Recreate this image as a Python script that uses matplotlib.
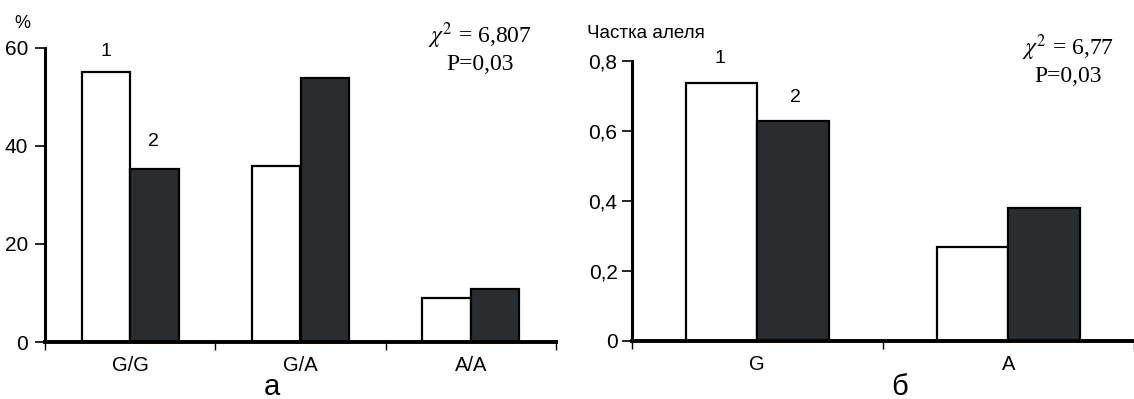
import matplotlib
matplotlib.use("Agg")
import matplotlib.pyplot as plt
import numpy as np

# ---- data ----
geno_cats = ["G/G", "G/A", "A/A"]
geno_group1 = [55.1, 35.9, 8.9]
geno_group2 = [35.3, 53.8, 10.9]

allele_cats = ["G", "A"]
allele_group1 = [0.735, 0.269]
allele_group2 = [0.627, 0.380]

geno_yticks = [0, 20, 40, 60]
geno_yticklabels = ["0", "20", "40", "60"]
allele_yticks = [0, 0.2, 0.4, 0.6, 0.8]
allele_yticklabels = ["0", "0,2", "0,4", "0,6", "0,8"]

chi_left = [r"$\chi^2$ = 6,807", "P=0,03"]
chi_right = [r"$\chi^2$ = 6,77", "P=0,03"]

W, H = 1134, 399
plt.rcParams["font.family"] = ["Liberation Sans", "DejaVu Sans"]
plt.rcParams["mathtext.fontset"] = "stix"

fig = plt.figure(figsize=(W / 100, H / 100), dpi=100)

DARK = "#2a2d30"
BW = 0.285


def px_axes(x0, x1, ytop, ybot):
    return fig.add_axes([x0 / W, (H - ybot) / H, (x1 - x0) / W, (ybot - ytop) / H])


def style(ax, cats, yticks, yticklabels, ylim, xlim, tickpad):
    for s in ["top", "right"]:
        ax.spines[s].set_visible(False)
    ax.spines["left"].set_linewidth(2.2)
    ax.spines["bottom"].set_linewidth(2.8)
    ax.set_ylim(*ylim)
    ax.set_xlim(*xlim)
    ax.set_yticks(yticks)
    ax.set_yticklabels(yticklabels, fontsize=15)
    ax.tick_params(axis="y", direction="out", length=7, width=1.2, pad=tickpad)
    n = len(cats)
    ax.set_xticks([i - 0.5 for i in range(n + 1)])
    ax.set_xticklabels([""] * (n + 1))
    ax.tick_params(axis="x", which="major", direction="out", length=6, width=1.0)
    ax.set_xticks(range(n), minor=True)
    ax.set_xticklabels(cats, minor=True, fontsize=14.5)
    ax.tick_params(axis="x", which="minor", length=0, pad=10)
    ax.patch.set_alpha(0)


# ---- left panel ----
axL = px_axes(45, 556, 47.7, 342)
x = np.arange(len(geno_cats))
axL.bar(x - BW / 2, geno_group1, BW, color="white", edgecolor="black", linewidth=1.6, zorder=2)
axL.bar(x + BW / 2, geno_group2, BW, color=DARK, edgecolor="black", linewidth=1.6, zorder=2)
style(axL, geno_cats, geno_yticks, geno_yticklabels, (0, 60), (-0.5, 2.5), 5)
axL.text(-0.145, 59.2, "1", ha="center", va="center", fontsize=14)
axL.text(0.138, 40.8, "2", ha="center", va="center", fontsize=14)

# ---- right panel ----
axR = px_axes(631.5, 1134, 60.7, 341)
x2 = np.arange(len(allele_cats))
axR.bar(x2 - BW / 2, allele_group1, BW, color="white", edgecolor="black", linewidth=1.6, zorder=2)
axR.bar(x2 + BW / 2, allele_group2, BW, color=DARK, edgecolor="black", linewidth=1.6, zorder=2)
style(axR, allele_cats, allele_yticks, allele_yticklabels, (0, 0.8), (-0.5, 1.46), 3)
axR.text(-0.147, 0.807, "1", ha="center", va="center", fontsize=14)
axR.text(0.154, 0.695, "2", ha="center", va="center", fontsize=14)


def ftext(px, py, s, **kw):
    fig.text(px / W, 1 - py / H, s, **kw)


ftext(22, 23, "%", ha="center", va="center", fontsize=13)
ftext(587, 33, "Частка алеля", ha="left", va="center", fontsize=13.5)

serif = ["Liberation Serif", "DejaVu Serif"]
ftext(480, 36, chi_left[0], ha="center", va="center", fontsize=17, family=serif)
ftext(480, 64, chi_left[1], ha="center", va="center", fontsize=17, family=serif)
ftext(1068, 48, chi_right[0], ha="center", va="center", fontsize=17, family=serif)
ftext(1068, 77, chi_right[1], ha="center", va="center", fontsize=17, family=serif)

ftext(272, 395, "а", ha="center", va="baseline", fontsize=21)
ftext(900, 395, "б", ha="center", va="baseline", fontsize=21)

fig.savefig("out.png", dpi=100)
